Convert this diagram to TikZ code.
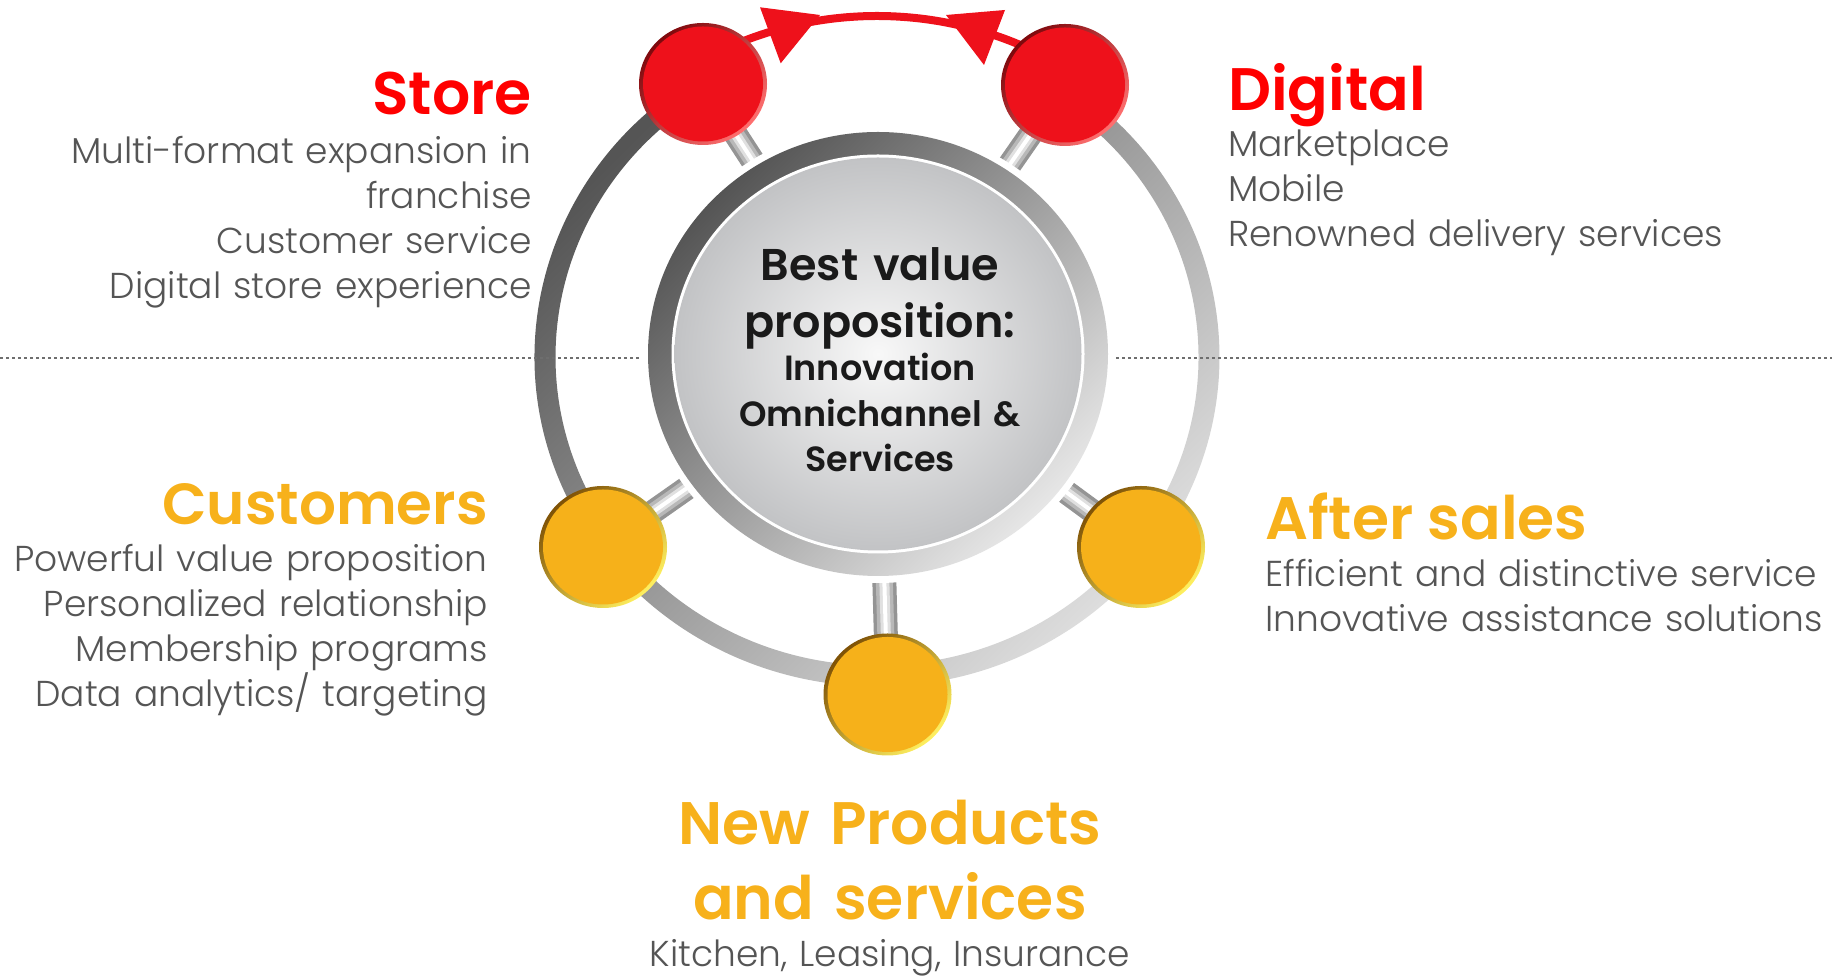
\documentclass[tikz,border=0pt]{standalone}
\usepackage{fontspec}
\usetikzlibrary{shapes.geometric,calc}
\newfontfamily\lightfont{Poppins Light}
\newfontfamily\headfont{Poppins SemiBold}

\definecolor{nodered}{HTML}{EE111B}
\definecolor{redrimdark}{HTML}{7E080C}
\definecolor{redrimlight}{HTML}{FF7070}
\definecolor{nodeorange}{HTML}{F6B11A}
\definecolor{orangerimdark}{HTML}{7F5206}
\definecolor{orangerimlight}{HTML}{FFF060}
\definecolor{headred}{HTML}{FF0000}
\definecolor{headorange}{HTML}{F7B11B}
\definecolor{bodygray}{HTML}{555555}
\definecolor{coretext}{HTML}{1A1A1A}
\definecolor{ringdark}{HTML}{555555}
\definecolor{ringlight}{HTML}{E6E6E6}
\definecolor{corelight}{HTML}{F8F8F8}
\definecolor{coreedge}{HTML}{C2C3C5}
\definecolor{rulegray}{HTML}{6E6E6E}

\pgfdeclarelayer{orbitlayer}
\pgfdeclarelayer{sticklayer}
\pgfsetlayers{orbitlayer,sticklayer,main}

\begin{document}
\begin{tikzpicture}[x=1pt,y=1pt,
  ringshade/.style={top color=ringdark, bottom color=ringlight, shading angle=45},
  rednode/.style={ellipse, minimum width=128pt, minimum height=122pt, inner sep=0pt,
    top color=redrimdark, bottom color=redrimlight, shading angle=45,
    path picture={\fill[nodered] (path picture bounding box.center) ellipse[x radius=60pt, y radius=57.5pt];}},
  orangenode/.style={ellipse, minimum width=128pt, minimum height=122pt, inner sep=0pt,
    top color=orangerimdark, bottom color=orangerimlight, shading angle=45,
    path picture={\fill[nodeorange] (path picture bounding box.center) ellipse[x radius=60pt, y radius=57.5pt];}},
  stickA/.style={line width=24pt, draw=black!42},
  stickB/.style={line width=17pt, draw=black!28},
  stickC/.style={line width=10pt, draw=black!12},
  stickD/.style={line width=4pt, draw=white},
  arrowline/.style={line width=8pt, draw=nodered},
  divider/.style={line width=2.5pt, draw=rulegray, dash pattern=on 3pt off 3pt},
  headR/.style={font=\headfont\fontsize{60}{75}\selectfont, text=headred, inner sep=0pt},
  headO/.style={font=\headfont\fontsize{60}{75}\selectfont, text=headorange, inner sep=0pt},
  bodytext/.style={font=\lightfont\fontsize{36}{45}\selectfont, text=bodygray, inner sep=0pt, text width=760pt},
  corebig/.style={font=\headfont\fontsize{44.5}{57}\selectfont, text=coretext, inner sep=0pt, text width=400pt, align=center},
  coresmall/.style={font=\headfont\fontsize{35}{45.5}\selectfont, text=coretext, inner sep=0pt, text width=400pt, align=center}
]
\useasboundingbox (0,0) rectangle (1832,976);

\coordinate (hub) at (878,622);
\coordinate (axis) at (877,619);

% outer orbit ring, open at the top between the two red nodes
\begin{pgfonlayer}{orbitlayer}
\shade[ringshade]
  ($(axis)+(121.5:342.5pt and 329.5pt)$)
  arc[start angle=121.5, end angle=416.4, x radius=342.5pt, y radius=329.5pt]
  -- ($(axis)+(416.4:321.5pt and 308.5pt)$)
  arc[start angle=416.4, end angle=121.5, x radius=321.5pt, y radius=308.5pt]
  -- cycle;
\end{pgfonlayer}

% dotted horizon line
\draw[divider] (0,618) -- (642,618);
\draw[divider] (1116,618) -- (1832,618);

% central hub
\fill[white] (hub) ellipse[x radius=237pt, y radius=229pt];
\shade[ringshade] (hub) ellipse[x radius=230pt, y radius=222pt];
\fill[white] (hub) ellipse[x radius=206.5pt, y radius=199.5pt];
\shade[inner color=corelight, outer color=coreedge] (hub) ellipse[x radius=203.5pt, y radius=196.5pt];

\node[corebig, anchor=base] (core1) at (880,695.5) {Best value\\proposition:};
\node[coresmall, anchor=base] (core2) at (880,595) {Innovation\\Omnichannel \&\\Services};

% satellite nodes
\node[rednode] (store) at (703,892) {};
\node[rednode] (digital) at (1065,891) {};
\node[orangenode] (customers) at (603,429) {};
\node[orangenode] (aftersales) at (1141,429) {};
\node[orangenode] (newprod) at (887.5,281.5) {};

% rods from the hub to every node, and the arc joining the red nodes
\begin{pgfonlayer}{sticklayer}
\foreach \n in {store,digital,customers,aftersales,newprod}{
  \draw[stickA] (hub) -- (\n.center);
  \draw[stickB] (hub) -- (\n.center);
  \draw[stickC] (hub) -- (\n.center);
  \draw[stickD] (hub) -- (\n.center);
}
\draw[arrowline] ($(axis)+(118:355pt and 341pt)$)
  arc[start angle=118, end angle=62, x radius=355pt, y radius=341pt];
\end{pgfonlayer}
\fill[nodered] (760,968.7) -- (780.7,912.7) -- (820,961) -- cycle;
\fill[nodered] (1005,966) -- (984,911) -- (946,961) -- cycle;

% labels
\node[headR, anchor=base east] (storeH) at (532,861.5) {Store};
\node[bodytext, align=right, anchor=base east] (storeB) at (532,812)
  {Multi-format expansion in\\franchise\\Customer service\\Digital store experience};

\node[headR, anchor=base west] (digitalH) at (1228,865) {Digital};
\node[bodytext, align=left, anchor=base west] (digitalB) at (1228,819)
  {Marketplace\\Mobile\\Renowned delivery services};

\node[headO, anchor=base east, font=\headfont\fontsize{58}{75}\selectfont] (customersH) at (488,451) {Customers};
\node[bodytext, align=right, anchor=base east] (customersB) at (488,404)
  {Powerful value proposition\\Personalized relationship\\Membership programs\\Data analytics/ targeting};

\node[headO, anchor=base west] (aftersalesH) at (1265,436) {After sales};
\node[bodytext, align=left, anchor=base west] (aftersalesB) at (1265,389)
  {Efficient and distinctive service\\Innovative assistance solutions};

\node[headO, text width=700pt, align=center, anchor=base] (newprodH) at (890,131) {New Products\\and services};
\node[bodytext, align=center, anchor=base] (newprodB) at (890,9) {Kitchen, Leasing, Insurance};
\end{tikzpicture}
\end{document}
